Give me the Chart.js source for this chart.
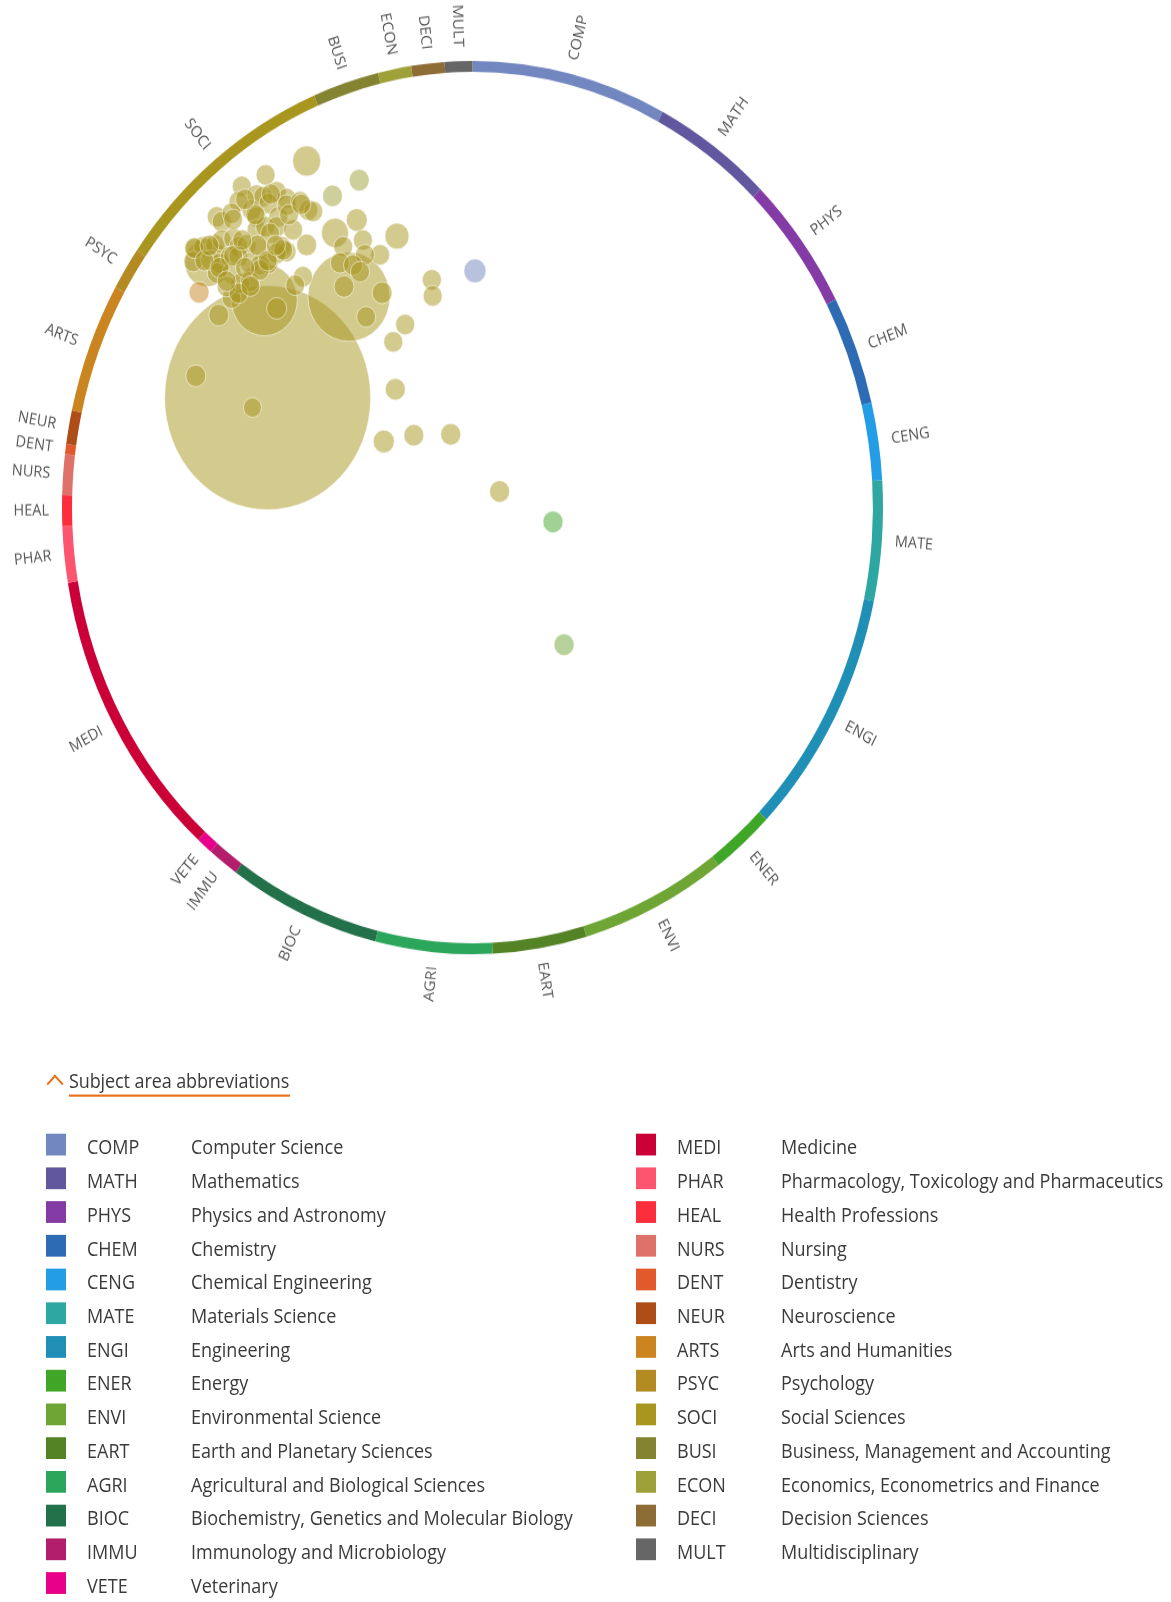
<!DOCTYPE html>
<html>
<head>
<meta charset="utf-8">
<title>Subject areas</title>
<script src="https://cdn.jsdelivr.net/npm/chart.js"></script>
<style>
  html, body { margin: 0; padding: 0; background: #fff; }
  body { width: 1171px; height: 1602px; overflow: hidden; }
  /* the reference is stretched vertically, so the whole page is too */
  #page { position: relative; width: 1171px; height: 1473px; transform: scaleY(1.088); transform-origin: 0 0;
          font-family: "Open Sans", sans-serif; color: #3a3a3a; }
  #ring, #bubbles { position: absolute; left: 0; top: -6px; }
  #heading { position: absolute; left: 69px; top: 981px; font-size: 18px; line-height: 25px;
             border-bottom: 2px solid #e9711c; padding-right: 1px; letter-spacing: -0.1px; }
  #chevron { position: absolute; left: 49px; top: 990px; width: 10px; height: 10px;
             border-left: 2px solid #e9711c; border-top: 2px solid #e9711c; transform: rotate(45deg); }
  .row { position: absolute; height: 24px; font-size: 18px; line-height: 24px; white-space: nowrap; }
  .row .sw { position: absolute; left: 0; top: 0; width: 20px; height: 20px; }
  .row .ab { position: absolute; left: 41px; }
  .row .nm { position: absolute; left: 145px; }
</style>
</head>
<body>
<div id="page">
  <canvas id="ring" width="945" height="945"></canvas>
  <canvas id="bubbles" width="945" height="945"></canvas>
  <div id="chevron"></div>
  <div id="heading">Subject area abbreviations</div>
  <div id="legend"></div>
</div>

<script>
// subject areas, clockwise from the top of the ring
var subjectCodes = ["COMP", "MATH", "PHYS", "CHEM", "CENG", "MATE", "ENGI", "ENER", "ENVI", "EART",
                    "AGRI", "BIOC", "IMMU", "VETE", "MEDI", "PHAR", "HEAL", "NURS", "DENT", "NEUR",
                    "ARTS", "PSYC", "SOCI", "BUSI", "ECON", "DECI", "MULT"];
var subjectNames = ["Computer Science", "Mathematics", "Physics and Astronomy", "Chemistry",
                    "Chemical Engineering", "Materials Science", "Engineering", "Energy",
                    "Environmental Science", "Earth and Planetary Sciences", "Agricultural and Biological Sciences",
                    "Biochemistry, Genetics and Molecular Biology", "Immunology and Microbiology", "Veterinary",
                    "Medicine", "Pharmacology, Toxicology and Pharmaceutics", "Health Professions", "Nursing",
                    "Dentistry", "Neuroscience", "Arts and Humanities", "Psychology", "Social Sciences",
                    "Business, Management and Accounting", "Economics, Econometrics and Finance",
                    "Decision Sciences", "Multidisciplinary"];
var subjectColors = ["#7286c0", "#61579f", "#853ba5", "#2d6bb4", "#229de6", "#2ea6a1", "#208fb6", "#3fa628",
                     "#6ea535", "#548325", "#2ba65b", "#23714b", "#b21d6c", "#e8008a", "#cb0037", "#fd5570",
                     "#fd2e3b", "#de7168", "#e25a2b", "#ae4e16", "#ca8520", "#b48a22", "#a8961e", "#848331",
                     "#9da137", "#8e6c35", "#666666"];
// share of the ring for each area (degrees)
var arcSizes = [27.6, 16.9, 17.7, 14.2, 10.1, 15.6, 32.2, 8.9, 20.7, 13.3,
                16.5, 21.5, 4.4, 2.3, 38.4, 7.3, 4.0, 5.3, 1.3, 4.4,
                17.0, 5.6, 32.1, 9.4, 4.7, 4.7, 3.9];

// bubbles: position in units of the ring radius (=100), radius in px, subject area
var bubbleX = [-49.9, -30.1, -50.7, -64.7, -40.4, -34.1, -27.6, -33.5, -18.4, -28.2,
               -40.4, -26.7, -31.5, -22.5, -26.2, -32.3, -29.1, -27.4, -31.3, -22.0,
               -25.9, -9.9, -9.7, -16.4, -19.3, -41.3, -43.2, -47.7, -58.7, -61.8,
               -66.6, 0.6, -18.8, -21.6, -14.3, -5.3, 6.6, 19.6, 22.3, -67.4, -53.6,
               -50.4, -56.2, -52.6, -47.7, -45.3, -57.0, -51.0, -49.7, -62.3, -61.1,
               -58.7, -53.8, -52.6, -47.3, -45.3, -42.0, -40.0, -38.8, -67.6, -65.6,
               -62.7, -61.1, -58.3, -57.0, -55.0, -52.6, -50.5, -47.7, -46.5, -45.3,
               -43.7, -49.3, -51.8, -68.0, -63.9, -61.5, -59.1, -57.0, -54.2, -51.8,
               -49.7, -47.7, -46.1, -62.3, -58.7, -56.6, -54.2, -51.8, -59.9, -57.0,
               -67.8, -65.3, -61.6, -58.3, -55.4, -52.4, -49.9, -56.1, -64.1, -59.9,
               -54.1, -47.9, -44.7, -41.7, -52.9, -58.3, -55.4, -49.1];
var bubbleY = [24.6, 47.2, 46.5, 54.8, 77.6, 69.8, 73.3, 61.5, 60.8, 64.4,
               58.8, 59.9, 58.4, 56.6, 56.6, 54.8, 54.3, 52.8, 49.5, 48.1,
               42.7, 51.0, 47.4, 41.0, 37.1, 51.7, 49.8, 44.6, 46.9, 43.1,
               48.2, 53.0, 26.5, 14.8, 16.2, 16.4, 3.6, -3.2, -30.7, 29.5, 22.4,
               74.5, 71.9, 70.0, 70.7, 69.2, 68.5, 69.6, 68.1, 65.1, 64.0,
               65.9, 66.6, 65.1, 65.1, 67.7, 68.5, 66.6, 66.3, 58.0, 58.4,
               58.8, 59.9, 60.3, 58.4, 58.8, 62.2, 62.9, 62.9, 58.4, 57.3,
               62.2, 61.4, 58.0, 55.1, 55.4, 54.7, 56.2, 56.2, 54.7, 54.3,
               54.7, 56.9, 57.7, 52.5, 52.5, 50.2, 50.6, 53.2, 49.5, 48.0,
               58.1, 55.3, 53.7, 56.4, 53.7, 58.7, 55.3, 59.9, 58.7, 50.7,
               49.6, 58.7, 65.6, 67.9, 65.6, 64.5, 69.0, 70.2];
var bubbleR = [103, 41, 33, 22, 14, 10, 10, 13.5, 12, 10.5,
               10, 9.5, 9.5, 9.5, 9.5, 9.5, 9.5, 9.5, 10, 10,
               9.5, 9.5, 9.5, 9.5, 9.5, 9.5, 9.5, 10, 9.5, 10,
               10, 11, 10, 10.5, 10, 10, 10, 10, 10, 10, 9,
               9.5, 9.5, 9.5, 9.5, 9.5, 9.5, 9.5, 9.5, 9.5, 9.5,
               9.5, 9.5, 9.5, 9.5, 9.5, 9.5, 9.5, 9.5, 9.5, 9.5,
               9.5, 9.5, 9.5, 9.5, 9.5, 9.5, 9.5, 9.5, 9.5, 9.5,
               9.5, 9.5, 9.5, 9.5, 9.5, 9.5, 9.5, 9.5, 9.5, 9.5,
               9.5, 9.5, 9.5, 9.5, 9.5, 9.5, 9.5, 9.5, 9.5, 9.5,
               9.5, 9.5, 9.5, 9.5, 9.5, 9.5, 9.5, 9.5, 9.5, 9.5,
               9.5, 9.5, 9.5, 9.5, 9.5, 9.5, 9.5, 9.5];
var bubbleArea = ["SOCI", "SOCI", "SOCI", "SOCI", "SOCI", "ECON", "ECON", "SOCI", "SOCI", "SOCI",
                  "SOCI", "SOCI", "SOCI", "SOCI", "SOCI", "SOCI", "SOCI", "SOCI", "SOCI", "SOCI",
                  "SOCI", "SOCI", "SOCI", "SOCI", "SOCI", "SOCI", "SOCI", "SOCI", "SOCI", "SOCI",
                  "ARTS", "COMP", "SOCI", "SOCI", "SOCI", "SOCI", "SOCI", "ENER", "ENVI", "SOCI", "SOCI"];

function colorOf(code) {
    return subjectColors[subjectCodes.indexOf(code)];
}

// labels around the ring, reading away from the centre on the right half
var ringLabels = {
    id: "ringLabels",
    afterDatasetsDraw: function(chart) {
        var ctx = chart.ctx;
        var arcs = chart.getDatasetMeta(0).data;
        ctx.save();
        ctx.font = '14.5px "Open Sans"';
        ctx.fillStyle = "#555";
        ctx.textBaseline = "middle";
        arcs.forEach(function(arc, i) {
            var a = (arc.startAngle + arc.endAngle) / 2;
            var r = arc.outerRadius + 13;
            ctx.save();
            ctx.translate(arc.x + Math.cos(a) * r, arc.y + Math.sin(a) * r);
            if (Math.cos(a) >= 0) {
                ctx.rotate(a);
                ctx.textAlign = "left";
            } else {
                ctx.rotate(a + Math.PI);
                ctx.textAlign = "right";
            }
            ctx.fillText(subjectCodes[i], 0, 0);
            ctx.restore();
        });
        ctx.restore();
    }
};

new Chart(document.getElementById("ring"), {
    type: "doughnut",
    data: {
        labels: subjectCodes,
        datasets: [{
            data: arcSizes,
            backgroundColor: subjectColors,
            borderWidth: 0
        }]
    },
    options: {
        responsive: false,
        animation: false,
        events: [],
        cutout: "97.55%",
        layout: { padding: 62 },
        plugins: { legend: { display: false }, tooltip: { enabled: false } }
    },
    plugins: [ringLabels]
});

var points = bubbleX.map(function(x, i) {
    return { x: x, y: bubbleY[i], r: bubbleR[i] };
});

new Chart(document.getElementById("bubbles"), {
    type: "bubble",
    data: {
        datasets: [{
            data: points,
            backgroundColor: function(c) { return colorOf(bubbleArea[c.dataIndex] || "SOCI") + "80"; },
            borderColor: "rgba(255, 255, 255, 0.55)",
            borderWidth: 1
        }]
    },
    options: {
        responsive: false,
        animation: false,
        events: [],
        layout: { padding: 0, autoPadding: false },
        scales: {
            x: { type: "linear", min: -115.1, max: 115.1, display: false },
            y: { type: "linear", min: -115.1, max: 115.1, display: false }
        },
        plugins: { legend: { display: false }, tooltip: { enabled: false } }
    }
});

// legend: two columns
var legend = document.getElementById("legend");
subjectCodes.forEach(function(code, i) {
    var col = i < 14 ? 0 : 1;
    var row = col === 0 ? i : i - 14;
    var div = document.createElement("div");
    div.className = "row";
    div.style.left = (col === 0 ? 46 : 636) + "px";
    div.style.top = (1042 + row * 31) + "px";
    div.innerHTML = '<span class="sw" style="background:' + subjectColors[i] + '"></span>' +
                    '<span class="ab">' + code + '</span>' +
                    '<span class="nm">' + subjectNames[i] + '</span>';
    legend.appendChild(div);
});
</script>
</body>
</html>
